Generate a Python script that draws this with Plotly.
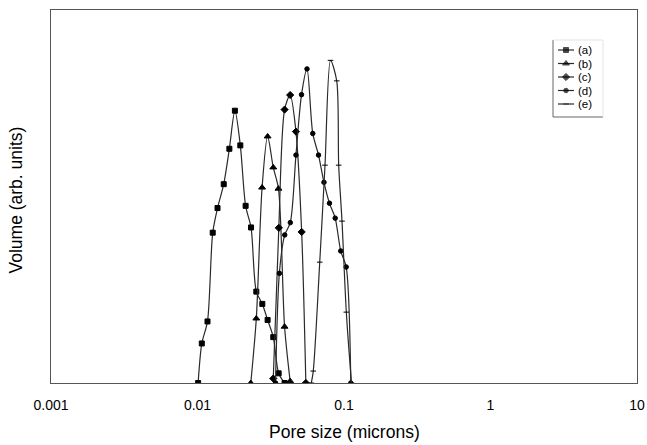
import plotly.graph_objects as go

# Pore size distributions (pore size in microns, volume in arbitrary units)
size_a = [0.0101, 0.0107, 0.0117, 0.0127, 0.0137, 0.0151, 0.0165, 0.0180, 0.0196,
          0.0213, 0.0232, 0.0252, 0.0277, 0.0301, 0.0329, 0.0358, 0.0393]
vol_a = [0.0, 10.6, 16.5, 40.3, 46.9, 53.3, 62.8, 73.0, 63.7,
         47.5, 41.7, 24.5, 21.2, 16.9, 12.3, 2.6, 0.0]

size_b = [0.0231, 0.0252, 0.0276, 0.0301, 0.0329, 0.0357, 0.0393, 0.0429]
vol_b = [0.0, 17.3, 52.4, 66.1, 57.8, 52.1, 15.1, 0.5]

size_c = [0.0329, 0.0359, 0.0393, 0.0429, 0.0470, 0.0514, 0.0549]
vol_c = [1.2, 41.6, 73.3, 77.2, 67.4, 40.5, 0.0]

size_d = [0.0341, 0.0362, 0.0394, 0.0430, 0.0470, 0.0513, 0.0559, 0.0612,
          0.0670, 0.0730, 0.0796, 0.0871, 0.0950, 0.1035, 0.1113]
vol_d = [0.0, 29.4, 39.7, 43.0, 61.1, 77.3, 84.2, 66.9,
         61.1, 53.8, 48.2, 44.2, 35.4, 31.1, 0.0]

size_e = [0.0598, 0.0617, 0.0683, 0.0742, 0.0809, 0.0892, 0.0920, 0.0969, 0.1037, 0.1125]
vol_e = [0.0, 3.2, 32.4, 58.4, 86.5, 81.0, 58.4, 43.4, 19.0, 0.0]

labels = ["(a)", "(b)", "(c)", "(d)", "(e)"]
tick_vals = [0.001, 0.01, 0.1, 1, 10]
tick_text = ["0.001", "0.01", "0.1", "1", "10"]

FONT = "Liberation Sans, Arial, sans-serif"
LINE = "#2a2a2a"
styles = [
    dict(symbol="square", size=5),
    dict(symbol="triangle-up", size=6),
    dict(symbol="diamond", size=5.5),
    dict(symbol="circle", size=4.5),
    dict(symbol="line-ew", size=4),
]
series = [(size_a, vol_a), (size_b, vol_b), (size_c, vol_c), (size_d, vol_d), (size_e, vol_e)]

fig = go.Figure()
for (xs, ys), st, name in zip(series, styles, labels):
    marker = dict(symbol=st["symbol"], size=st["size"], color="black",
                  line=dict(width=1, color="black"))
    fig.add_trace(go.Scatter(
        x=xs, y=ys, mode="lines+markers", name=name,
        line=dict(color=LINE, width=1.2, shape="spline", smoothing=0.8),
        marker=marker, showlegend=False,
    ))

# Hand-drawn legend in a small inset axis
leg_y = [10, 23.5, 37, 50.5, 64]
for st, name, yy in zip(styles, labels, leg_y):
    fig.add_trace(go.Scatter(
        x=[5, 13, 21], y=[yy, yy, yy], mode="lines+markers",
        line=dict(color=LINE, width=1.2),
        marker=dict(symbol=st["symbol"], size=[0, st["size"], 0], color="black",
                    line=dict(width=1, color="black")),
        xaxis="x2", yaxis="y2", showlegend=False, hoverinfo="skip",
    ))
    fig.add_annotation(x=23, y=yy, xref="x2", yref="y2", text=name, showarrow=False,
                       xanchor="left", yanchor="middle",
                       font=dict(family=FONT, size=11.5, color="black"))

L, T, W, H = 51, 10, 586, 373
def px(v):
    return (v - L) / W
def py(v):
    return (T + H - v) / H

box_l, box_r, box_t, box_b = px(553), px(603), py(40), py(117)
fig.add_shape(type="line", xref="paper", yref="paper", x0=box_l, x1=box_l, y0=box_b, y1=box_t,
              line=dict(color="#666", width=1))
fig.add_shape(type="line", xref="paper", yref="paper", x0=box_l, x1=box_r, y0=box_b, y1=box_b,
              line=dict(color="#666", width=1))
fig.add_shape(type="line", xref="paper", yref="paper", x0=box_l, x1=box_r, y0=box_t, y1=box_t,
              line=dict(color="#e4e4e4", width=1))
fig.add_shape(type="line", xref="paper", yref="paper", x0=box_r, x1=box_r, y0=box_b, y1=box_t,
              line=dict(color="#e4e4e4", width=1))

fig.add_annotation(text="Pore size (microns)", xref="paper", yref="paper", x=0.5, y=0,
                   yshift=-49, showarrow=False, yanchor="middle",
                   font=dict(family=FONT, size=17.5, color="black"))
fig.add_annotation(text="Volume (arb. units)", xref="paper", yref="paper", x=0, y=0.5,
                   xshift=-36, yshift=-4, textangle=-90, showarrow=False, xanchor="center",
                   font=dict(family=FONT, size=17.5, color="black"))

fig.update_layout(
    width=647, height=445,
    margin=dict(l=L, r=647 - L - W, t=T, b=445 - T - H, autoexpand=False),
    paper_bgcolor="white", plot_bgcolor="white",
    font=dict(family=FONT, color="black"),
    xaxis=dict(type="log", range=[-3, 1], tickvals=tick_vals, ticktext=tick_text,
               showgrid=False, zeroline=False, showline=True, mirror=True,
               linecolor="#555", linewidth=1, ticks="", ticklabelstandoff=9,
               automargin=False,
               tickfont=dict(family=FONT, size=14, color="black")),
    yaxis=dict(range=[0, 100], showticklabels=False, showgrid=False, zeroline=False,
               showline=True, mirror=True, linecolor="#555", linewidth=1, ticks="",
               automargin=False),
    xaxis2=dict(domain=[px(553), px(603)], range=[0, 50], anchor="y2", visible=False,
                fixedrange=True),
    yaxis2=dict(domain=[py(117), py(40)], range=[77, 0], anchor="x2", visible=False,
                fixedrange=True),
    showlegend=False,
)

fig.write_html("out.html")
